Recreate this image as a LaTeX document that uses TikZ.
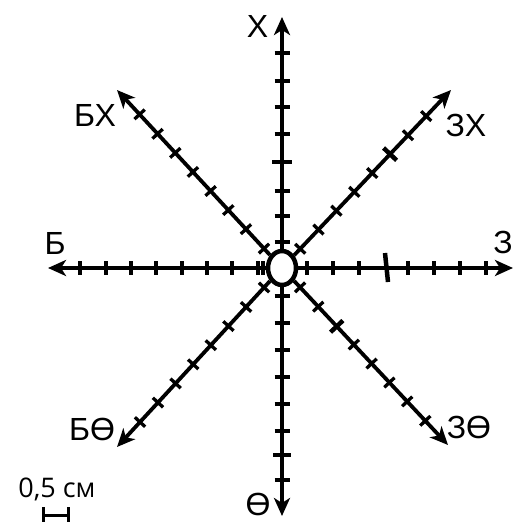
\documentclass[tikz,border=0pt]{standalone}
\usepackage{fontspec}
\setmainfont{Liberation Sans}
\newfontfamily\scalefnt{Open Sans}
\usetikzlibrary{arrows.meta,calc,shapes.geometric}
\begin{document}
\begin{tikzpicture}[x=1pt,y=-1pt,
  axis/.style={line width=4.5pt,-{Stealth[length=18pt,width=16pt,inset=5pt]}},
  diag/.style={line width=3.8pt,-{Stealth[length=18pt,width=16pt,inset=5pt]}},
  tick/.style={line width=3.3pt},
  bigtick/.style={line width=4.5pt},
  lbl/.style={inner sep=0pt,font=\fontsize{32}{32}\selectfont}]
\useasboundingbox (0,0) rectangle (521,522);
% centre
\node[ellipse,draw,line width=4.5pt,fill=white,minimum width=28pt,minimum height=34pt,inner sep=0pt] (c) at (282,268) {};
% tips
\coordinate (tN) at (282,17);
\coordinate (tS) at (282,516);
\coordinate (tW) at (48,268);
\coordinate (tE) at (513,268);
\coordinate (tNW) at (117,90);
\coordinate (tNE) at (451,90);
\coordinate (tSW) at (117,447);
\coordinate (tSE) at (448,445);
% arms
\draw[axis] (c) -- (tN);
\draw[axis] (c) -- (tS);
\draw[axis] (c) -- (tW);
\draw[axis] (c) -- (tE);
\draw[diag] (c) -- (tNW);
\draw[diag] (c) -- (tNE);
\draw[diag] (c) -- (tSW);
\draw[diag] (c) -- (tSE);
% ticks on horizontal arms
\foreach \x in {80,106,131,156,182,207,232,258,263}
  \draw[tick] (\x,261) -- (\x,275);
\foreach \x in {307,333,359,408,434,460,486}
  \draw[tick] (\x,261) -- (\x,275);
\draw[bigtick] (385,253) -- (388,282);
% ticks on vertical arms
\foreach \y in {53,81,107,134,191,216,242,296,323,350,377,404,431,480}
  \draw[tick] (274.5,\y) -- (289.5,\y);
\draw[bigtick] (272,162) -- (292,162);
\draw[bigtick] (273,455) -- (291,455);
% ticks on diagonal arms
\foreach \T in {tNW,tSW}
  \foreach \d in {26.5,53,79,105,131,157,183,209.5}
  {
    \coordinate (p) at ($(c)!\d pt!(\T)$);
    \draw[tick] ($(p)!7pt!90:(\T)$) -- ($(p)!7pt!-90:(\T)$);
  }
\foreach \d in {26.5,53,79,105,131,183,209.5}
  {
    \coordinate (p) at ($(c)!\d pt!(tNE)$);
    \draw[tick] ($(p)!7pt!90:(tNE)$) -- ($(p)!7pt!-90:(tNE)$);
  }
\coordinate (pb1) at ($(c)!157pt!(tNE)$);
\draw[bigtick] ($(pb1)!9pt!90:(tNE)$) -- ($(pb1)!9pt!-90:(tNE)$);
\foreach \d in {26.5,53,105,131,157,183,209.5}
  {
    \coordinate (p) at ($(c)!\d pt!(tSE)$);
    \draw[tick] ($(p)!7pt!90:(tSE)$) -- ($(p)!7pt!-90:(tSE)$);
  }
\coordinate (pb2) at ($(c)!80pt!(tSE)$);
\draw[bigtick] ($(pb2)!8.5pt!90:(tSE)$) -- ($(pb2)!8.5pt!-90:(tSE)$);
% labels
\node[lbl] (lN) at (257.5,26.5) {Х};
\node[lbl] (lNW) at (95,115) {БХ};
\node[lbl] (lNE) at (466,125) {ЗХ};
\node[lbl] (lW) at (55,243) {Б};
\node[lbl] (lE) at (503,242) {З};
\node[lbl] (lSW) at (92,429) {БӨ};
\node[lbl] (lSE) at (469,427) {ЗӨ};
\node[lbl] (lS) at (258,504) {Ө};
% scale
\node[inner sep=0pt,font=\scalefnt\fontsize{27}{27}\selectfont] (sc) at (57,489) {0,5 см};
\draw[line width=3pt] (43,507) -- (43,522) (68,507) -- (68,522) (43,515.5) -- (68,515.5);
\end{tikzpicture}
\end{document}
